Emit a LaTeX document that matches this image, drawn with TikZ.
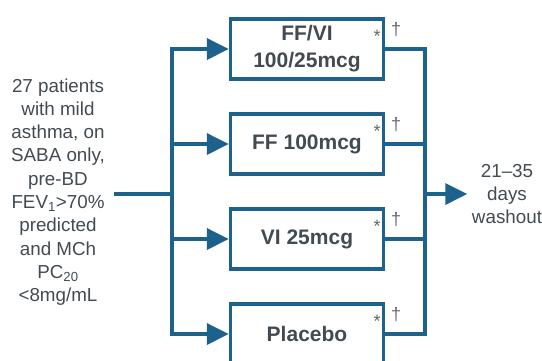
\documentclass[tikz,border=0pt]{standalone}
\usepackage{fontspec}
\setmainfont{Liberation Sans}
\usetikzlibrary{calc, arrows.meta}
\definecolor{armblue}{RGB}{28,98,140}
\definecolor{txtgrey}{RGB}{66,74,82}

\begin{document}
\begin{tikzpicture}[x=1pt, y=-1pt, line width=3.3pt,
  armbox/.style={draw=armblue, minimum width=153pt, minimum height=60pt,
    align=center, text=txtgrey, inner sep=0pt,
    font=\fontsize{21}{27}\selectfont\bfseries},
  feed/.style={draw=armblue, -{Triangle[length=22pt,width=21pt]}},
  busline/.style={draw=armblue, line cap=rect},
  note/.style={align=center, text=txtgrey, inner sep=3pt,
    font=\fontsize{18.8}{23.3}\selectfont},
  sym/.style={text=black!60, inner sep=0pt, font=\fontsize{18}{18}\selectfont}]
  \clip (0,0) rectangle (542,360);
  % vier Behandlungsarme
  \node[armbox] (fv) at (307,49) {FF/VI\\100/25mcg};
  \node[armbox] (ff) at (307,144) {FF 100mcg};
  \node[armbox] (vi) at (307,239) {VI 25mcg};
  \node[armbox] (pl) at (307,334) {Placebo};
  % Einschluss und Washout
  \node[note] (pts) at (58,192) {27 patients\\with mild\\asthma, on\\SABA only,\\pre-BD\\
    FEV\textsubscript{1}>70\%\\predicted\\and MCh\\PC\textsubscript{20}\\<8mg/mL};
  \node[note] (wash) at (507,194) {21--35\\days\\washout};
  \coordinate (lbus) at (172,194);
  \coordinate (rbus) at (425,194);

  % links: Verteilung
  \draw[busline] ($(pts.east |- lbus)+(6,0)$) -- (lbus);
  \draw[busline] (lbus |- fv.west) -- (lbus |- pl.west);
  \foreach \b in {fv,ff,vi,pl}
    \draw[feed] (lbus |- \b.west) -- (\b.west);
  % rechts: Zusammenfuehrung
  \foreach \b in {fv,ff,vi,pl}
    \draw[busline] (\b.east) -- (\b.east -| rbus);
  \draw[busline] (rbus |- fv.east) -- (rbus |- pl.east);
  \draw[feed] (rbus) -- (wash.west);

  % Fussnotenzeichen
  \foreach \b in {fv,ff,vi,pl} {
    \node[sym] (st\b) at ($(\b.north east)+(-8,19)$) {*};
    \node[sym] (dg\b) at ($(\b.north east)+(11,12)$) {\textdagger};
  }
\end{tikzpicture}
\end{document}
